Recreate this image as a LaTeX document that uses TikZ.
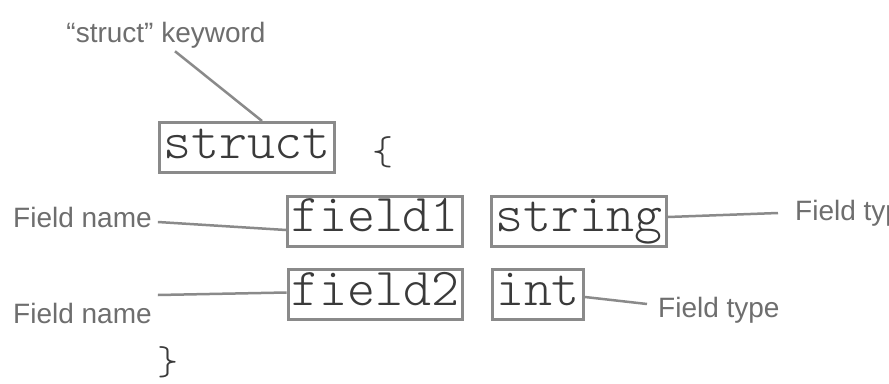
\documentclass[tikz,border=0pt]{standalone}
\usepackage{fontspec}
\setmainfont{Liberation Sans}
\usetikzlibrary{calc}
\definecolor{boxgray}{HTML}{8A8A8A}
\definecolor{hand}{HTML}{6E6E6E}
\definecolor{codec}{HTML}{3A3A3A}
\begin{document}
\begin{tikzpicture}[x=1pt,y=-1pt,
  codebox/.style={draw=boxgray, line width=3pt, font=\ttfamily\fontseries{l}\fontsize{53.3}{56}\selectfont, text=codec,
    inner xsep=3.5pt, inner ysep=0pt, minimum height=50pt, text height=21pt, text depth=0pt},
  lbl/.style={font=\fontsize{28}{30}\selectfont, text=hand, inner sep=0pt},
  brace/.style={font=\ttfamily\fontseries{l}\fontsize{40}{42}\selectfont, text=codec, inner sep=0pt},
  conn/.style={draw=boxgray, line width=2.5pt}]
\useasboundingbox (0,0) rectangle (889,383);
\clip (0,0) rectangle (889,383);
\fill[white] (0,0) rectangle (889,383);
% code boxes
\node[codebox] (st) at (247,147.5) {struct};
\node[brace] (ob) at (383,152) {\{};
\node[codebox] (f1) at (375,221) {field1};
\node[codebox] (s) at (579,221) {string};
\node[codebox] (f2) at (375.5,294.5) {field2};
\node[codebox] (i) at (538,294.5) {int};
\node[brace] (cb) at (168,362) {\}};
% labels
\node[lbl] (kw) at (166,35) {“struct” keyword};
\node[lbl, anchor=west] (fn1) at (13,217) {Field name};
\node[lbl, anchor=west] (fn2) at (13,313) {Field name};
\node[lbl, anchor=west] (ft1) at (795,213) {Field type};
\node[lbl, anchor=west] (ft2) at (658,310) {Field type};
% connectors
\draw[conn] ($(kw.south)+(9,3)$) -- ($(st.north)+(15,0)$);
\draw[conn] ($(fn1.east)+(6,5)$) -- ($(f1.west)+(0,9)$);
\draw[conn] ($(fn2.east)+(6,-18)$) -- ($(f2.west)+(0,-2)$);
\draw[conn] ($(s.east)+(0,-4)$) -- ($(ft1.west)+(-17,0)$);
\draw[conn] ($(i.east)+(0,2.5)$) -- ($(ft2.west)+(-11,-6)$);
\end{tikzpicture}
\end{document}
